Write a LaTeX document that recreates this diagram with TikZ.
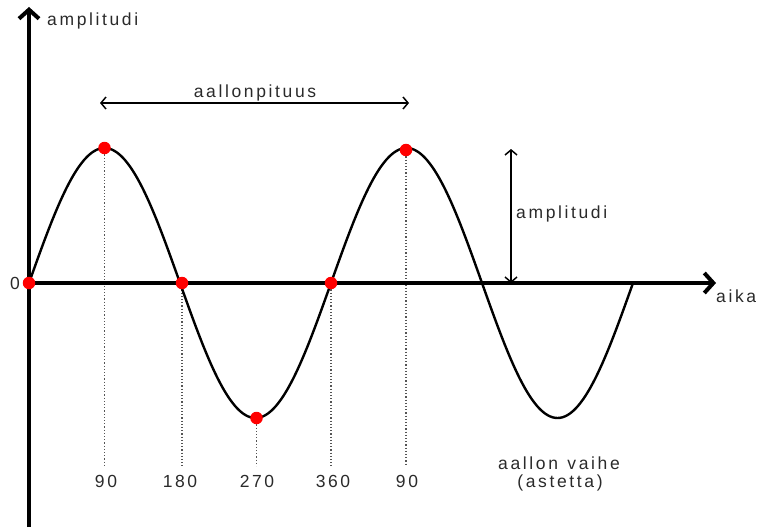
\documentclass[tikz,border=0pt]{standalone}
\usepackage{fontspec}
\setmainfont{Liberation Sans}[LetterSpace=15]
\usetikzlibrary{arrows.meta}
\definecolor{txt}{HTML}{2A2A2A}
\definecolor{dotred}{HTML}{FF0000}
\definecolor{guidegray}{HTML}{555555}
\begin{document}
\begin{tikzpicture}[x=1pt,y=-1pt,
  axisline/.style={line width=4pt, -{Straight Barb[length=9pt,width=20pt,line width=4pt]}},
  wave/.style={line width=2.4pt, black},
  dimarrow/.style={line width=1.5pt, {Straight Barb[length=5pt,width=12pt,line width=1.5pt]}-{Straight Barb[length=5pt,width=12pt,line width=1.5pt]}},
  guide/.style={line width=1.2pt, guidegray, dotted},
  dotmark/.style={circle, fill=dotred, inner sep=0pt, minimum size=12.5pt},
  lbl/.style={text=txt, font=\fontsize{17.5}{19}\selectfont, inner sep=0pt},
]
\useasboundingbox (0,0) rectangle (759,527);
% named positions
\coordinate (O) at (29,283);
\coordinate (ytop) at (29,7);
\coordinate (ybot) at (29,527);
\coordinate (xend) at (716,283);
\coordinate (q1) at (104.5,148);
\coordinate (q2) at (182,283);
\coordinate (q3) at (256.5,418);
\coordinate (q4) at (331,283);
\coordinate (q5) at (406,150);
\coordinate (g1) at (104.5,466);
\coordinate (g2) at (182,466);
\coordinate (g3) at (256.5,466);
\coordinate (g4) at (331,466);
\coordinate (g5) at (406,466);
\coordinate (wlL) at (100,103);
\coordinate (wlR) at (409,103);
\coordinate (amT) at (511,149);
\coordinate (amB) at (511,283);
% guides
\draw[guide] (q1) -- (g1);
\draw[guide] (q2) -- (g2);
\draw[guide] (q3) -- (g3);
\draw[guide] (q4) -- (g4);
\draw[guide] (q5) -- (g5);
% axes
\draw[axisline] (ybot) -- (ytop);
\draw[axisline] (O) -- (xend);
% wave
\draw[wave] plot[domain=0:720, samples=241, smooth] ({29+\x*0.838889}, {283-135*sin(\x)});
% dots
\node[dotmark] (p0) at (O) {};
\node[dotmark] (p90) at (q1) {};
\node[dotmark] (p180) at (q2) {};
\node[dotmark] (p270) at (q3) {};
\node[dotmark] (p360) at (q4) {};
\node[dotmark] (p90b) at (q5) {};
% dimension arrows
\draw[dimarrow] (wlL) -- (wlR);
\draw[dimarrow] (amT) -- (amB);
% labels
\node[lbl, anchor=base west] (yl) at (47,26) {amplitudi};
\node[lbl, anchor=base west] (xl) at (716,302) {aika};
\node[lbl] (zero) at (15,283) {0};
\node[lbl, anchor=base] (wl) at (255,97.5) {aallonpituus};
\node[lbl, anchor=base west] (al) at (516,218) {amplitudi};
\node[lbl, anchor=base] (t1) at (106,487) {90};
\node[lbl, anchor=base] (t2) at (180,487) {180};
\node[lbl, anchor=base] (t3) at (257,487) {270};
\node[lbl, anchor=base] (t4) at (333,487) {360};
\node[lbl, anchor=base] (t5) at (407,487) {90};
\node[lbl, anchor=base] (ph1) at (559,469) {aallon\hspace{2pt} vaihe};
\node[lbl, anchor=base] (ph2) at (560,487) {(astetta)};
\end{tikzpicture}
\end{document}
